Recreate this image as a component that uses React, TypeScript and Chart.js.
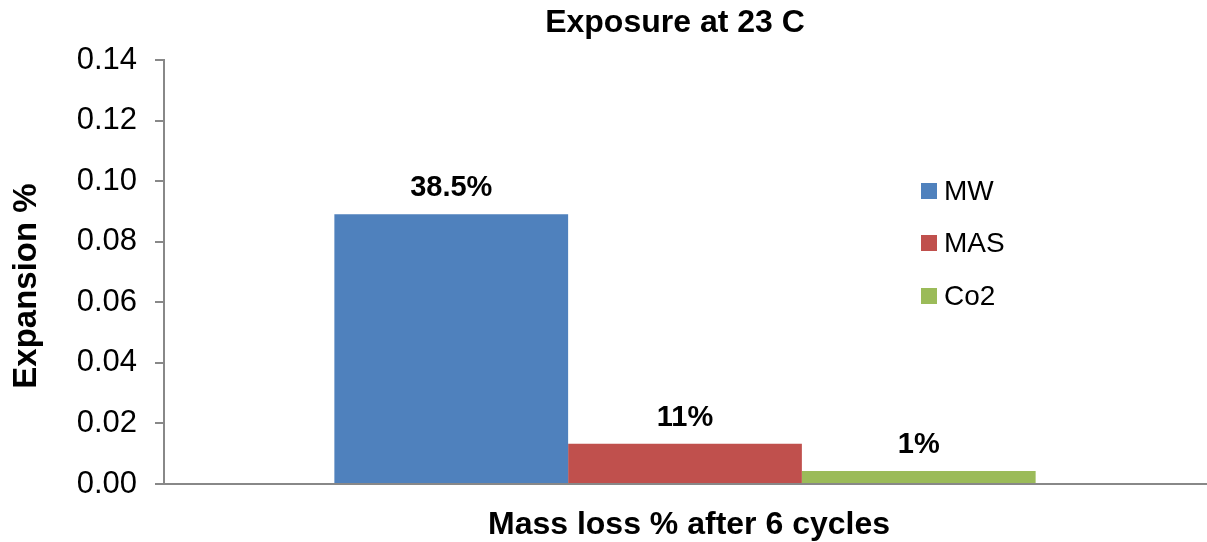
import React, { useEffect, useRef } from "react";
import { Chart, registerables } from "chart.js";

Chart.register(...registerables);

const categories = [""];
const seriesNames = ["MW", "MAS", "Co2"];
const seriesValues = [0.0891, 0.0133, 0.0043];
const seriesLabels = ["38.5%", "11%", "1%"];
const seriesColors = ["#4F81BD", "#C0504D", "#9BBB59"];
const yTicks = [0, 0.02, 0.04, 0.06, 0.08, 0.1, 0.12, 0.14];
const chartTitle = "Exposure at 23 C";
const xTitle = "Mass loss % after 6 cycles";
const yTitle = "Expansion %";

const FONT = "'Liberation Sans', Arial, sans-serif";

const labelPlugin = {
  id: "barLabels",
  afterDatasetsDraw(chart: any) {
    const ctx = chart.ctx;
    ctx.save();
    ctx.font = `bold 29px ${FONT}`;
    ctx.fillStyle = "#000";
    ctx.textAlign = "center";
    ctx.textBaseline = "alphabetic";
    chart.data.datasets.forEach((ds: any, i: number) => {
      const meta = chart.getDatasetMeta(i);
      meta.data.forEach((bar: any) => {
        ctx.fillText(seriesLabels[i], bar.x, bar.y - 18);
      });
    });
    ctx.restore();
  },
};

const legendPlugin = {
  id: "innerLegend",
  afterDraw(chart: any) {
    const ctx = chart.ctx;
    const area = chart.chartArea;
    const x0 = area.left + 757;
    const ys = [131, 183, 236];
    ctx.save();
    ctx.font = `28px ${FONT}`;
    ctx.textAlign = "left";
    ctx.textBaseline = "middle";
    seriesNames.forEach((name, i) => {
      const cy = area.top + ys[i];
      ctx.fillStyle = seriesColors[i];
      ctx.fillRect(x0, cy - 8, 16, 16);
      ctx.fillStyle = "#000";
      ctx.fillText(name, x0 + 23, cy + 1);
    });
    ctx.restore();
  },
};

const titlesPlugin = {
  id: "titles",
  afterDraw(chart: any) {
    const ctx = chart.ctx;
    const area = chart.chartArea;
    ctx.save();
    ctx.fillStyle = "#000";
    ctx.textAlign = "center";
    // chart title
    ctx.font = `bold 32px ${FONT}`;
    ctx.textBaseline = "alphabetic";
    ctx.fillText(chartTitle, area.left + 511, 32);
    // x axis title
    ctx.textBaseline = "middle";
    ctx.fillText(xTitle, area.left + 525, area.bottom + 41);
    // y axis title
    ctx.font = `bold 33px ${FONT}`;
    ctx.translate(27, area.top + 226);
    ctx.rotate(-Math.PI / 2);
    ctx.fillText(yTitle, 0, 0);
    ctx.restore();
  },
};

export default function App() {
  const ref = useRef<HTMLCanvasElement>(null);

  useEffect(() => {
    document.body.style.margin = "0";
    const canvas = ref.current!;
    const chart = new Chart(canvas, {
      type: "bar",
      data: {
        labels: categories,
        datasets: seriesNames.map((name, i) => ({
          label: name,
          data: [seriesValues[i]],
          backgroundColor: seriesColors[i],
          borderWidth: 0,
          categoryPercentage: 0.673,
          barPercentage: 1,
        })),
      },
      options: {
        animation: false,
        responsive: false,
        maintainAspectRatio: false,
        layout: { padding: { left: 0, right: 1, top: 60, bottom: 0 } },
        plugins: {
          legend: { display: false },
          tooltip: { enabled: false },
          title: { display: false },
        },
        scales: {
          x: {
            grid: { display: false, drawTicks: false },
            border: { display: true, color: "#888", width: 2 },
            ticks: { display: false },
            afterFit: (scale: any) => {
              scale.height = 58;
            },
          },
          y: {
            min: 0,
            max: 0.14,
            afterBuildTicks: (scale: any) => {
              scale.ticks = yTicks.map((v) => ({ value: v }));
            },
            grid: {
              drawOnChartArea: false,
              drawTicks: true,
              tickLength: 9,
              color: "#888",
              lineWidth: 2,
            },
            border: { display: true, color: "#888", width: 2 },
            ticks: {
              color: "#000",
              font: { family: FONT, size: 31 },
              padding: 18,
              callback: (v: any) => Number(v).toFixed(2),
            },
            afterFit: (scale: any) => {
              scale.width = 164;
            },
          },
        },
      },
      plugins: [labelPlugin, legendPlugin, titlesPlugin],
    });
    return () => chart.destroy();
  }, []);

  return (
    <div style={{ width: 1207, height: 542, background: "#fff" }}>
      <canvas ref={ref} width={1207} height={542} style={{ display: "block" }} />
    </div>
  );
}
